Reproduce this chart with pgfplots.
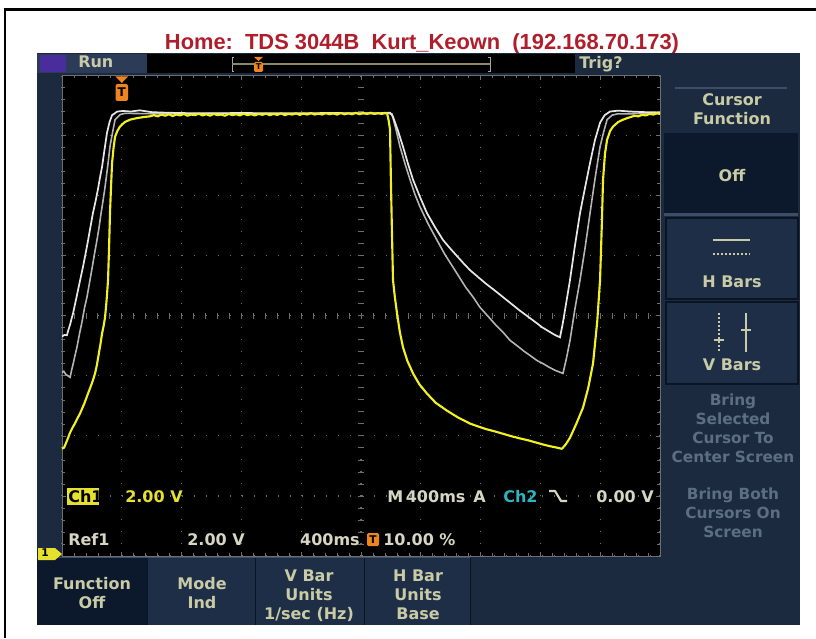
\documentclass[border=0pt]{standalone}
\usepackage{fontspec}
\setmainfont{DejaVu Sans}
\newfontfamily\titlefont{Liberation Sans}
\usepackage{pgfplots}
\pgfplotsset{compat=1.18}
\definecolor{scrbg}{HTML}{1B2A3E}
\definecolor{btnbg}{HTML}{1E2E46}
\definecolor{selbg}{HTML}{0C192C}
\definecolor{sepdark}{HTML}{0A1422}
\definecolor{seplight}{HTML}{3E4E66}
\definecolor{menutxt}{HTML}{C8CBA6}
\definecolor{greytxt}{HTML}{5E6E82}
\definecolor{readtxt}{HTML}{D6D6C4}
\definecolor{titlered}{HTML}{B01E2C}
\definecolor{scopeyellow}{HTML}{F2F01E}
\definecolor{ch1yellow}{HTML}{E6E02E}
\definecolor{ch2cyan}{HTML}{2FB3BE}
\definecolor{trigorange}{HTML}{EE8420}
\definecolor{gridgray}{HTML}{6E6E6E}
\definecolor{runbox}{HTML}{2C3C58}
\definecolor{runpurple}{HTML}{4A2D9C}
\definecolor{refwhite}{HTML}{E6E6E6}
\definecolor{refgrey}{HTML}{B4B4B4}
\definecolor{recbar}{HTML}{8C8A64}
\begin{document}
\begin{tikzpicture}
\useasboundingbox (0,0) rectangle (612pt,-478.5pt);
\fill[white] (0,0) rectangle (612pt,-478.5pt);
\begin{scope}[x=0.75pt,y=-0.75pt]
% outer frame lines
\draw[black, line width=2.2pt] (5,638) -- (5,9.5) -- (816,9.5);
% title
\node[anchor=base, text=titlered, font=\titlefont\bfseries\fontsize{16.4}{16.4}\selectfont, inner sep=0pt] at (422,50) {Home:\ \ TDS 3044B\ \ Kurt\_Keown\ \ (192.168.70.173)};
% scope screen
\fill[scrbg] (37,53) rectangle (800,625);
% status bar
\fill[runbox] (37,54) rectangle (147,73);
\fill[runpurple] (40,55) rectangle (66,72);
\node[anchor=base west, text=menutxt, font=\bfseries\fontsize{12}{12}\selectfont, inner sep=0pt] at (78,68) {Run};
\fill[black] (147,54) rectangle (575,73);
\draw[gray!70, line width=0.6pt] (234,57) -- (232,57) -- (232,71) -- (234,71);
\draw[gray!70, line width=0.6pt] (488,57) -- (490,57) -- (490,71) -- (488,71);
\draw[recbar, line width=2pt] (232,64) -- (490,64);
\fill[trigorange] (254,57) -- (263,57) -- (258.5,61) -- cycle;
\fill[trigorange, rounded corners=1pt] (254,62) rectangle (263,72);
\node[text=black, font=\bfseries\fontsize{6}{6}\selectfont, inner sep=0pt] at (258.5,67) {T};
\node[anchor=base west, text=menutxt, font=\bfseries\fontsize{12}{12}\selectfont, inner sep=0pt] at (579,69) {Trig?};
% grid area
\fill[black] (62,75.5) rectangle (660,556);
% centre-line tick marks
\foreach \i in {1,...,49} \draw[gridgray, line width=0.6pt] (62+\i*11.96,312.8) -- (62+\i*11.96,318.8);
\foreach \j in {1,...,39} \draw[gridgray, line width=0.6pt] (358,75.5+\j*12.0125) -- (364,75.5+\j*12.0125);
% right menu panel
\draw[seplight, line width=0.8pt] (675,88) -- (787,88);
\node[anchor=base, text=menutxt, font=\bfseries\fontsize{12}{12}\selectfont, inner sep=0pt] at (732,106) {Cursor};
\node[anchor=base, text=menutxt, font=\bfseries\fontsize{12}{12}\selectfont, inner sep=0pt] at (732,125) {Function};
\fill[selbg] (664,133) rectangle (798,213);
\node[anchor=base, text=menutxt, font=\bfseries\fontsize{12}{12}\selectfont, inner sep=0pt] at (732,181) {Off};
\fill[seplight] (664,213) rectangle (798,216);
\fill[btnbg] (666,218) rectangle (798,299);
\draw[sepdark, line width=0.8pt] (666,218) rectangle (798,299);
\draw[menutxt, line width=1pt] (713,240) -- (750,240);
\draw[menutxt, line width=1pt, dash pattern=on 1.2pt off 1.8pt] (713,254) -- (750,254);
\node[anchor=base, text=menutxt, font=\bfseries\fontsize{12}{12}\selectfont, inner sep=0pt] at (732,287) {H Bars};
\fill[btnbg] (666,302) rectangle (798,384);
\draw[sepdark, line width=0.8pt] (666,302) rectangle (798,384);
\draw[menutxt, line width=1pt, dash pattern=on 1.2pt off 1.8pt] (719,313) -- (719,352);
\draw[menutxt, line width=1pt] (714,340) -- (724,340);
\draw[menutxt, line width=1pt] (746,313) -- (746,352);
\draw[menutxt, line width=1pt] (741,330) -- (751,330);
\node[anchor=base, text=menutxt, font=\bfseries\fontsize{12}{12}\selectfont, inner sep=0pt] at (732,370) {V Bars};
\foreach \t/\yy in {Bring/405,Selected/424,Cursor To/443,Center Screen/462,Bring Both/499,Cursors On/518,Screen/537}
  \node[anchor=base, text=greytxt, font=\bfseries\fontsize{11.5}{11.5}\selectfont, inner sep=0pt] at (733,\yy) {\t};
% bottom menu
\fill[selbg] (37,558) rectangle (147,625);
\fill[btnbg] (148,558) rectangle (255,625);
\fill[btnbg] (256,558) rectangle (364,625);
\fill[btnbg] (365,558) rectangle (470,625);
\draw[sepdark, line width=0.8pt] (147.5,558) -- (147.5,625) (255.5,558) -- (255.5,625) (364.5,558) -- (364.5,625) (470.5,558) -- (470.5,625);
\draw[seplight, line width=0.6pt] (37,557.5) -- (470,557.5);
\foreach \t/\xx/\yy in {Function/92/589,Off/92/608,Mode/202/589,Ind/202/608,V Bar/309/581,Units/309/600,{1/sec (Hz)}/309/619,H Bar/418/581,Units/418/600,Base/418/619}
  \node[anchor=base, text=menutxt, font=\bfseries\fontsize{12}{12}\selectfont, inner sep=0pt] at (\xx,\yy) {\t};
% ground marker
\fill[ch1yellow] (38,548) -- (55,548) -- (62,554) -- (55,560) -- (38,560) -- cycle;
\node[text=black, font=\bfseries\fontsize{8}{8}\selectfont, inner sep=0pt] at (45,553) {1};
\end{scope}
\begin{axis}[
  at={(46.5pt,-417pt)}, anchor=south west,
  width=448.5pt, height=360.375pt, scale only axis,
  xmin=-400, xmax=3600, ymin=0, ymax=16,
  xtick={-400,0,...,3600}, ytick={0,2,...,16},
  minor x tick num=4, minor y tick num=4,
  xticklabels={}, yticklabels={},
  tick align=inside,
  major tick length=3pt, minor tick length=2.2pt,
  every tick/.style={color=gridgray, line width=0.5pt},
  grid=major,
  major grid style={color=gridgray, line width=0.9pt, dash pattern=on 0.9pt off 8.1pt},
  axis line style={color=gridgray, line width=0.6pt},
  clip=true,
]
% Ref1 lower (grey)
\addplot[refgrey, line width=1.2pt] coordinates {
(-400,6.11) (-388,6.15) (-375,6.05) (-360,6.00) (-346,5.95) (-335,6.20) (-323,6.45) (-312,6.70) (-300,6.95) (-283,7.40) (-266,7.80) (-250,8.25) (-233,8.62) (-216,9.10) (-200,9.55) (-183,10.05) (-166,10.52) (-152,10.95) (-139,11.40) (-125,11.85) (-112,12.29) (-95,12.95) (-79,13.63) (-62,14.10) (-45,14.53) (-10,14.70) (21,14.74)
(300,14.72) (700,14.74) (1100,14.72) (1500,14.74) (1790,14.73)
(1807,14.72) (1834,14.20) (1861,13.63) (1895,13.05) (1928,12.53) (1960,12.05) (1995,11.62) (2050,11.05) (2108,10.52) (2160,10.05) (2215,9.62) (2300,8.95) (2350,8.62) (2396,8.28) (2450,7.98) (2500,7.70) (2550,7.45) (2597,7.18) (2650,6.98) (2690,6.82) (2730,6.68) (2777,6.51) (2820,6.40) (2860,6.28) (2900,6.18) (2951,6.08)
(2975,6.60) (2998,7.18) (3030,8.20) (3065,9.19) (3100,10.30) (3132,11.42) (3165,12.55) (3199,13.63) (3222,14.10) (3246,14.53) (3280,14.68) (3313,14.72)
(3600,14.74)
};
% Ref1 upper (white)
\addplot[refwhite, line width=1.3pt] coordinates {
(-400,7.31) (-385,7.36) (-367,7.35) (-356,7.55) (-346,7.70) (-336,7.90) (-326,8.08) (-310,8.45) (-293,8.85) (-276,9.25) (-260,9.62) (-243,10.05) (-226,10.50) (-210,10.95) (-193,11.42) (-176,11.80) (-160,12.20) (-146,12.60) (-132,12.96) (-115,13.55) (-99,14.09) (-82,14.45) (-65,14.68) (-30,14.80) (8,14.82)
(60,14.80) (120,14.84) (200,14.78) (300,14.76) (500,14.74) (800,14.75) (1100,14.74) (1400,14.75) (1700,14.74) (1795,14.76)
(1814,14.63) (1848,14.15) (1881,13.63) (1915,13.05) (1948,12.53) (1995,11.95) (2041,11.42) (2095,10.95) (2149,10.52) (2195,10.25) (2240,10.00) (2285,9.75) (2329,9.52) (2385,9.28) (2440,9.05) (2495,8.84) (2550,8.62) (2605,8.40) (2660,8.18) (2720,7.96) (2777,7.75) (2810,7.62) (2850,7.50) (2890,7.38) (2931,7.28)
(2948,7.70) (2965,8.20) (2998,9.19) (3030,10.30) (3065,11.42) (3100,12.30) (3132,13.09) (3165,13.85) (3199,14.43) (3230,14.68) (3266,14.80)
(3320,14.83) (3400,14.80) (3500,14.78) (3600,14.77)
};
% Ch1 (yellow)
\addplot[scopeyellow, line width=1.6pt, line join=round] coordinates {
(-400,3.57) (-385,3.62) (-370,3.80) (-358,3.95) (-346,4.11) (-330,4.27) (-313,4.42) (-297,4.58) (-280,4.74) (-266,4.90) (-253,5.05) (-240,5.22) (-226,5.41) (-213,5.58) (-200,5.75) (-190,5.90) (-179,6.08) (-167,6.35) (-155,6.70) (-143,7.05) (-132,7.41) (-122,7.65) (-112,7.95) (-102,8.50) (-92,9.19) (-85,10.30) (-79,11.42) (-72,12.30) (-65,13.09) (-55,13.60) (-45,13.96) (-30,14.15) (-12,14.30) (20,14.45) (55,14.53) (100,14.58) (150,14.62) (189,14.64)
(215,14.68) (240,14.64) (265,14.70) (290,14.66) (315,14.71) (340,14.65) (365,14.70) (390,14.67) (415,14.72) (440,14.66) (465,14.70) (490,14.68) (515,14.73) (540,14.67) (565,14.71) (590,14.66) (615,14.72) (640,14.68) (665,14.70) (690,14.66) (715,14.72) (740,14.68) (765,14.71) (790,14.67) (815,14.73) (840,14.68) (865,14.71) (890,14.67) (915,14.72) (940,14.69) (965,14.73) (990,14.68) (1015,14.72) (1040,14.69) (1065,14.74) (1090,14.68) (1115,14.72) (1140,14.70) (1165,14.74) (1190,14.69) (1215,14.73) (1240,14.70) (1265,14.75) (1290,14.70) (1315,14.73) (1340,14.70) (1365,14.75) (1390,14.71) (1415,14.74) (1440,14.70) (1465,14.75) (1490,14.71) (1515,14.74) (1540,14.71) (1565,14.76) (1590,14.71) (1615,14.75) (1640,14.72) (1665,14.76) (1690,14.72) (1715,14.75) (1740,14.72) (1760,14.76) (1775,14.73)
(1785,14.50) (1794,14.20) (1800,12.50) (1807,10.80) (1814,9.19) (1827,8.60) (1841,8.08) (1860,7.45) (1881,6.95) (1910,6.50) (1948,6.08) (1990,5.72) (2041,5.41) (2100,5.10) (2175,4.84) (2250,4.61) (2329,4.41) (2385,4.31) (2440,4.22) (2495,4.15) (2550,4.07) (2605,3.99) (2660,3.92) (2720,3.85) (2777,3.77) (2820,3.71) (2860,3.66) (2900,3.62) (2944,3.57)
(2970,3.72) (2998,3.94) (3040,4.40) (3085,4.94) (3120,5.60) (3152,6.41) (3180,7.80) (3199,9.19) (3210,10.90) (3219,12.53) (3232,13.40) (3246,13.86) (3266,14.15) (3286,14.30) (3320,14.45) (3353,14.53) (3380,14.58) (3405,14.62) (3430,14.66) (3455,14.64) (3480,14.69) (3505,14.67) (3530,14.72) (3555,14.70) (3580,14.74) (3600,14.72)
};
\end{axis}
\begin{scope}[x=0.75pt,y=-0.75pt]
% trigger marker
\fill[trigorange] (115.5,76.5) -- (128,76.5) -- (121.8,83) -- cycle;
\fill[trigorange, rounded corners=1.5pt] (115.5,84) rectangle (128,101);
\node[text=black, font=\bfseries\fontsize{9}{9}\selectfont, inner sep=0pt] at (121.8,92.5) {T};
% readouts row 1
\fill[ch1yellow] (67,488) rectangle (99,505);
\node[anchor=base west, text=black, font=\bfseries\fontsize{12}{12}\selectfont, inner sep=0pt] at (68,502) {Ch1};
\node[anchor=base west, text=ch1yellow, font=\bfseries\fontsize{12}{12}\selectfont, inner sep=0pt] at (125,502) {2.00 V};
\node[anchor=base west, text=readtxt, font=\bfseries\fontsize{12}{12}\selectfont, inner sep=0pt] at (387,502) {M\,400ms};
\node[anchor=base west, text=readtxt, font=\bfseries\fontsize{12}{12}\selectfont, inner sep=0pt] at (473,502) {A};
\node[anchor=base west, text=ch2cyan, font=\bfseries\fontsize{12}{12}\selectfont, inner sep=0pt] at (503,502) {Ch2};
\draw[readtxt, line width=1.6pt, line join=round] (549,491) -- (555,491) -- (561,501) -- (567,501);
\node[anchor=base east, text=readtxt, font=\bfseries\fontsize{12}{12}\selectfont, inner sep=0pt] at (654,502) {0.00 V};
% readouts row 2
\node[anchor=base west, text=readtxt, font=\bfseries\fontsize{12}{12}\selectfont, inner sep=0pt] at (68,545) {Ref1};
\node[anchor=base east, text=readtxt, font=\bfseries\fontsize{12}{12}\selectfont, inner sep=0pt] at (245,545) {2.00 V};
\node[anchor=base east, text=readtxt, font=\bfseries\fontsize{12}{12}\selectfont, inner sep=0pt] at (360,545) {400ms};
\fill[trigorange, rounded corners=1pt] (367,533) rectangle (379,546);
\node[text=black, font=\bfseries\fontsize{8}{8}\selectfont, inner sep=0pt] at (373,539.5) {T};
\node[anchor=base west, text=readtxt, font=\bfseries\fontsize{12}{12}\selectfont, inner sep=0pt] at (383,545) {10.00 \%};
\end{scope}
\end{tikzpicture}
\end{document}
